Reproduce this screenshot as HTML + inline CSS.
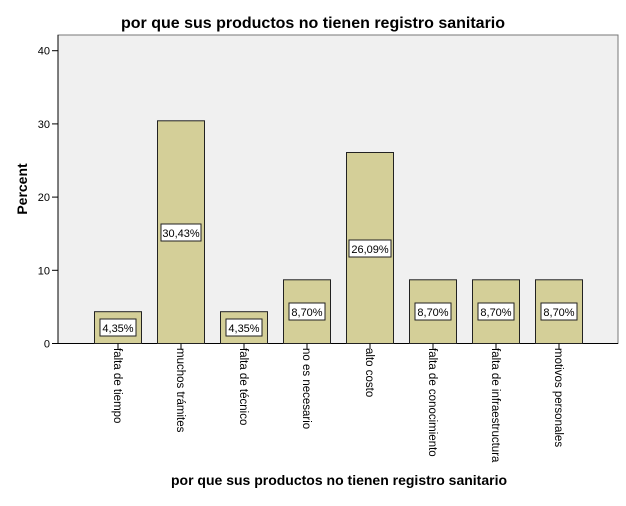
<!DOCTYPE html>
<html><head><meta charset="utf-8"><style>
body{margin:0;background:#fff;}
svg text{font-family:"Liberation Sans",Arial,sans-serif;}
</style></head><body>
<svg width="626" height="501" viewBox="0 0 626 501" xmlns="http://www.w3.org/2000/svg">
<rect width="626" height="501" fill="#fff"/>
<text x="313" y="28" text-anchor="middle" font-size="16" font-weight="bold">por que sus productos no tienen registro sanitario</text>
<rect x="58" y="35" width="560" height="308.5" fill="#f0f0f0" stroke="#777" stroke-width="1"/>
<g font-size="11" fill="#000" text-anchor="end">
<text x="50" y="347.5">0</text>
<text x="50" y="274.3">10</text>
<text x="50" y="201.1">20</text>
<text x="50" y="127.9">30</text>
<text x="50" y="54.7">40</text>
</g>
<g stroke="#000" stroke-width="1">
<line x1="52" y1="343.5" x2="58" y2="343.5"/>
<line x1="52" y1="270.3" x2="58" y2="270.3"/>
<line x1="52" y1="197.1" x2="58" y2="197.1"/>
<line x1="52" y1="123.9" x2="58" y2="123.9"/>
<line x1="52" y1="50.7" x2="58" y2="50.7"/>
<line x1="58" y1="35" x2="58" y2="343.5"/>
<line x1="58" y1="343.5" x2="618" y2="343.5"/>
</g>
<text transform="translate(27,189) rotate(-90)" text-anchor="middle" font-size="14" font-weight="bold">Percent</text>
<g stroke="#222" stroke-width="1" fill="#d4cf98">
<rect x="94.5" y="311.7" width="47" height="31.8"/>
<rect x="157.5" y="120.8" width="47" height="222.7"/>
<rect x="220.5" y="311.7" width="47" height="31.8"/>
<rect x="283.5" y="279.8" width="47" height="63.7"/>
<rect x="346.5" y="152.5" width="47" height="191"/>
<rect x="409.5" y="279.8" width="47" height="63.7"/>
<rect x="472.5" y="279.8" width="47" height="63.7"/>
<rect x="535.5" y="279.8" width="47" height="63.7"/>
</g>
<g fill="#fff" stroke="#222" stroke-width="1">
<rect x="100" y="319" width="36" height="17"/>
<rect x="161" y="224" width="40" height="17"/>
<rect x="226" y="319" width="36" height="17"/>
<rect x="289" y="303" width="36" height="17"/>
<rect x="349" y="240" width="42" height="17"/>
<rect x="415" y="303" width="36" height="17"/>
<rect x="478" y="303" width="36" height="17"/>
<rect x="541" y="303" width="36" height="17"/>
</g>
<g font-size="11" text-anchor="middle">
<text x="118" y="332">4,35%</text>
<text x="181" y="237">30,43%</text>
<text x="244" y="332">4,35%</text>
<text x="307" y="316">8,70%</text>
<text x="370" y="253">26,09%</text>
<text x="433" y="316">8,70%</text>
<text x="496" y="316">8,70%</text>
<text x="559" y="316">8,70%</text>
</g>
<g stroke="#000" stroke-width="1">
<line x1="118" y1="343.5" x2="118" y2="349"/>
<line x1="181" y1="343.5" x2="181" y2="349"/>
<line x1="244" y1="343.5" x2="244" y2="349"/>
<line x1="307" y1="343.5" x2="307" y2="349"/>
<line x1="370" y1="343.5" x2="370" y2="349"/>
<line x1="433" y1="343.5" x2="433" y2="349"/>
<line x1="496" y1="343.5" x2="496" y2="349"/>
<line x1="559" y1="343.5" x2="559" y2="349"/>
</g>
<g font-size="11.5">
<text transform="translate(114,348) rotate(90)">falta de tiempo</text>
<text transform="translate(177,348) rotate(90)">muchos trámites</text>
<text transform="translate(240,348) rotate(90)">falta de técnico</text>
<text transform="translate(303,348) rotate(90)">no es necesario</text>
<text transform="translate(366,348) rotate(90)">alto costo</text>
<text transform="translate(429,348) rotate(90)">falta de conocimiento</text>
<text transform="translate(492,348) rotate(90)">falta de infraestructura</text>
<text transform="translate(555,348) rotate(90)">motivos personales</text>
</g>
<text x="339" y="485" text-anchor="middle" font-size="14" font-weight="bold">por que sus productos no tienen registro sanitario</text>
</svg>
</body></html>
